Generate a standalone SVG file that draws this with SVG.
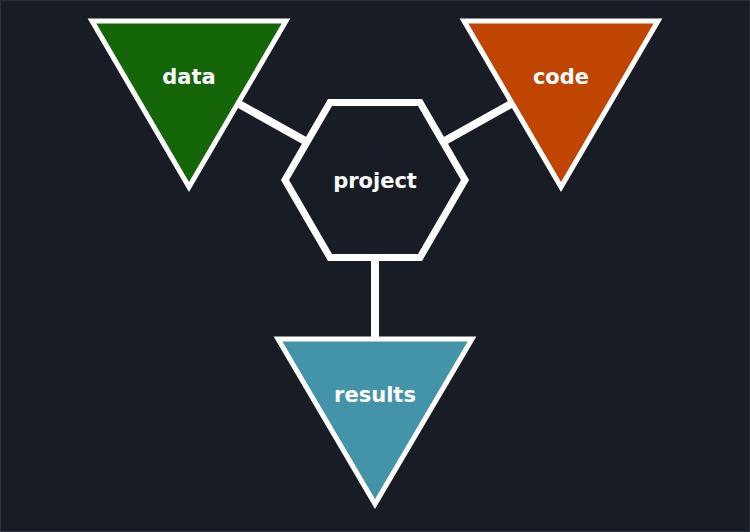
<svg xmlns="http://www.w3.org/2000/svg" width="750" height="532" viewBox="0 0 750 532">
<style>
.shape{stroke:#ffffff;stroke-width:5;stroke-linejoin:miter}
.hex{stroke:#ffffff;stroke-width:7;stroke-linejoin:miter}
.conn{stroke:#ffffff;stroke-width:8;fill:none}
.lbl{font-family:"DejaVu Sans",sans-serif;font-weight:bold;font-size:21px;fill:#ffffff;text-anchor:middle}
</style>
<rect x="0.5" y="0.5" width="749" height="531" fill="#181d25" stroke="#2c323b" stroke-width="1"/>
<g id="connectors">
<line class="conn" x1="189" y1="76" x2="375" y2="180"/>
<line class="conn" x1="561" y1="76" x2="375" y2="180"/>
<line class="conn" x1="375" y1="180" x2="375" y2="395"/>
</g>
<g id="data">
<polygon class="shape" fill="#146609" points="92,21 286,21 189,187"/>
<text class="lbl" x="189" y="84">data</text>
</g>
<g id="code">
<polygon class="shape" fill="#c04502" points="464,21 658,21 561,187"/>
<text class="lbl" x="561" y="84">code</text>
</g>
<g id="project">
<polygon class="hex" fill="#181d25" points="285,180 330,102.5 420,102.5 465,180 420,257.5 330,257.5"/>
<text class="lbl" x="375" y="188">project</text>
</g>
<g id="results">
<polygon class="shape" fill="#4394a8" points="278,339 472,339 375,504"/>
<text class="lbl" x="375" y="402">results</text>
</g>
</svg>
